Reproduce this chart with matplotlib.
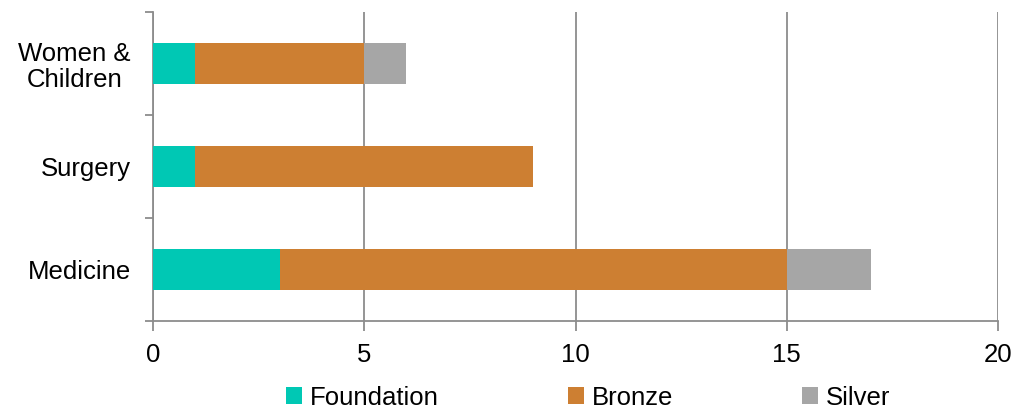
import numpy as np
import matplotlib.pyplot as plt

plt.rcParams['font.family'] = ['Liberation Sans', 'DejaVu Sans']

categories = ['Medicine', 'Surgery', 'Women &\nChildren']
foundation = [3, 1, 1]
bronze = [12, 8, 4]
silver = [2, 0, 1]

fig = plt.figure(figsize=(10.15, 4.11), dpi=100)
ax = fig.add_axes([0.1507, 0.219, 0.8326, 0.752])

y = np.arange(len(categories))
f = np.array(foundation)
b = np.array(bronze)
s = np.array(silver)
h = 0.4
ax.barh(y, f, height=h, color='#00C8B4', label='Foundation', zorder=3)
ax.barh(y, b, left=f, height=h, color='#CD7F32', label='Bronze', zorder=3)
ax.barh(y, s, left=f + b, height=h, color='#A6A6A6', label='Silver', zorder=3)

grey = '#8C8C8C'
fs = 18.5
ax.set_xlim(0, 20)
ax.set_ylim(-0.5, 2.5)
ax.set_xticks([0, 5, 10, 15, 20])
ax.grid(axis='x', color=grey, linewidth=1.3, zorder=0)
ax.set_yticks(y)
ax.set_yticklabels(categories, ha='right', multialignment='center', linespacing=1.1)
ax.set_yticks([-0.5, 0.5, 1.5, 2.5], minor=True)
ax.tick_params(axis='y', which='major', length=0, pad=16, labelsize=fs)
ax.tick_params(axis='y', which='minor', length=6, width=1.3, color=grey)
ax.tick_params(axis='x', length=7, width=1.3, color=grey, labelsize=fs, pad=9)
for side in ['top', 'right']:
    ax.spines[side].set_visible(False)
for side in ['left', 'bottom']:
    ax.spines[side].set_color(grey)
    ax.spines[side].set_linewidth(1.3)

ax.legend(loc='lower center', bbox_to_anchor=(0.515, -0.345), ncol=3, frameon=False,
          fontsize=fs, handlelength=0.65, handleheight=0.65, handletextpad=0.3,
          columnspacing=5.0, borderpad=0.2)

fig.savefig('out.png', dpi=100)
